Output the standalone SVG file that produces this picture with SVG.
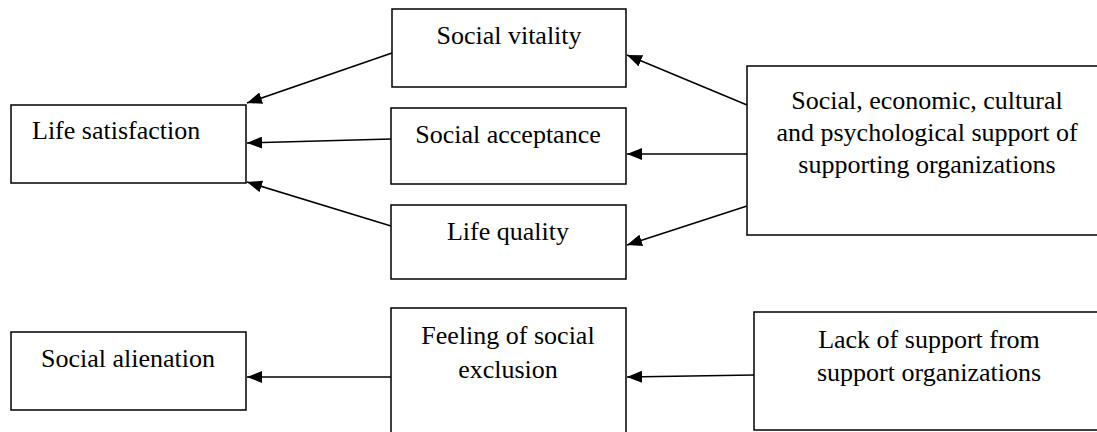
<svg xmlns="http://www.w3.org/2000/svg" width="1097" height="432" viewBox="0 0 1097 432">
<style>
.box{fill:#fff;stroke:#000;stroke-width:1.5}
.t{font-family:"Liberation Serif","Times New Roman",serif;font-size:26px;fill:#000}
.c{text-anchor:middle}
.con line{stroke:#000;stroke-width:1.5;marker-end:url(#ah)}
</style>
<defs>
<marker id="ah" markerUnits="userSpaceOnUse" markerWidth="15" markerHeight="12" refX="15" refY="6" orient="auto">
<path d="M0,0 L15,6 L0,12 z" fill="#000"/>
</marker>
</defs>
<rect width="1097" height="432" fill="#fff"/>
<g id="life-satisfaction"><rect class="box" x="11" y="105" width="235" height="78"/><text class="t" x="32" y="139">Life satisfaction</text></g>
<g id="social-vitality"><rect class="box" x="392" y="9" width="234" height="78"/><text class="t c" x="509" y="44">Social vitality</text></g>
<g id="social-acceptance"><rect class="box" x="391" y="108" width="235" height="76"/><text class="t c" x="508" y="143">Social acceptance</text></g>
<g id="life-quality"><rect class="box" x="391" y="205" width="235" height="74"/><text class="t c" x="508" y="240">Life quality</text></g>
<g id="support"><rect class="box" x="747" y="66" width="359" height="169"/><text class="t c" x="927" y="109">Social, economic, cultural</text><text class="t c" x="927" y="141">and psychological support of</text><text class="t c" x="927" y="173">supporting organizations</text></g>
<g id="social-alienation"><rect class="box" x="11" y="332" width="235" height="78"/><text class="t c" x="128" y="367">Social alienation</text></g>
<g id="social-exclusion"><rect class="box" x="391" y="308" width="235" height="140"/><text class="t c" x="508" y="344">Feeling of social</text><text class="t c" x="508" y="378">exclusion</text></g>
<g id="lack-support"><rect class="box" x="754" y="312" width="350" height="118"/><text class="t c" x="929" y="348">Lack of support from</text><text class="t c" x="929" y="381">support organizations</text></g>
<g id="connectors" class="con">
<line x1="392" y1="53" x2="247" y2="103"/>
<line x1="391" y1="139" x2="247" y2="143"/>
<line x1="391" y1="226" x2="247" y2="182"/>
<line x1="747" y1="105" x2="627" y2="55"/>
<line x1="747" y1="154" x2="627" y2="154"/>
<line x1="747" y1="206" x2="627" y2="245"/>
<line x1="391" y1="377" x2="247" y2="377"/>
<line x1="754" y1="375" x2="627" y2="377"/>
</g>
</svg>
